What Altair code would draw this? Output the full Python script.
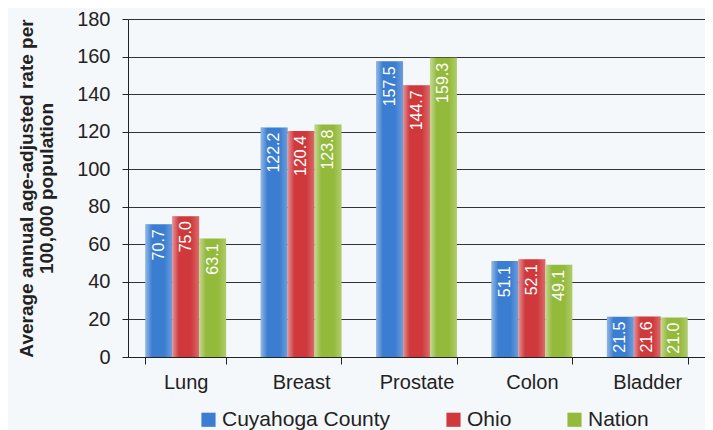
import altair as alt
import pandas as pd

categories = ["Lung", "Breast", "Prostate", "Colon", "Bladder"]
series = ["Cuyahoga County", "Ohio", "Nation"]
cuyahoga = [70.7, 122.2, 157.5, 51.1, 21.5]
ohio = [75.0, 120.4, 144.7, 52.1, 21.6]
nation = [63.1, 123.8, 159.3, 49.1, 21.0]
colors = ["#3b7dd0", "#cf393c", "#94ba3c"]
y_ticks = [0, 20, 40, 60, 80, 100, 120, 140, 160, 180]

rows = []
for s, vals in zip(series, [cuyahoga, ohio, nation]):
    for c, v in zip(categories, vals):
        rows.append({"cancer": c, "area": s, "rate": v, "label": f"{v:.1f}"})
df = pd.DataFrame(rows)

FONT = "Liberation Sans"

x_enc = alt.X("cancer:N", sort=categories, title=None,
              scale=alt.Scale(paddingInner=0.3, paddingOuter=0.15),
              axis=alt.Axis(labelAngle=0, labelFontSize=20, labelColor="#222",
                            labelFont=FONT, tickBand="extent", tickSize=7,
                            tickColor="#222", domainColor="#222", labelPadding=8))
xo_enc = alt.XOffset("area:N", sort=series)
y_enc = alt.Y("rate:Q", scale=alt.Scale(domain=[0, 180], nice=False),
              axis=alt.Axis(values=y_ticks, title=["Average annual age-adjusted rate per", "100,000 population"],
                            titleFontSize=19, titleFont=FONT, titleFontWeight="bold",
                            titleColor="#222", titleLineHeight=20, titlePadding=20,
                            labelFontSize=20, labelFont=FONT, labelColor="#222",
                            tickSize=6, tickColor="#222", domainColor="#222",
                            gridColor="#333", gridWidth=1, labelPadding=12))

base = alt.Chart(df)

bars = base.mark_bar().encode(
    x=x_enc, xOffset=xo_enc, y=y_enc,
    color=alt.Color("area:N", sort=series,
                    scale=alt.Scale(domain=series, range=colors),
                    legend=alt.Legend(orient="none", legendX=70, legendY=390,
                                      direction="horizontal", title=None, symbolType="square",
                                      symbolSize=200, symbolStrokeWidth=0,
                                      labelFontSize=21, labelFont=FONT, labelColor="#222",
                                      labelLimit=400,
                                      columnPadding=52, labelOffset=3)),
)

shine = base.mark_bar(
    color=alt.Gradient(
        gradient="linear",
        stops=[
            alt.GradientStop(color="rgba(255,255,255,0.45)", offset=0),
            alt.GradientStop(color="rgba(255,255,255,0.0)", offset=0.25),
            alt.GradientStop(color="rgba(255,255,255,0.0)", offset=0.7),
            alt.GradientStop(color="rgba(255,255,255,0.25)", offset=1),
        ],
        x1=0, x2=1, y1=0, y2=0,
    )
).encode(x=x_enc, xOffset=xo_enc, y=y_enc)

labels = base.mark_text(angle=270, align="right", baseline="middle", dx=-5,
                        color="white", fontSize=16, font=FONT).encode(
    x=x_enc, xOffset=xo_enc, y=y_enc, text="label:N")

chart = alt.layer(bars, shine, labels).properties(
    width=577, height=338,
    background="#f5f8fa",
    autosize=alt.AutoSizeParams(type="none"),
    padding={"left": 120, "top": 11, "right": 0, "bottom": 73},
).configure_view(stroke=None).configure_axisX(grid=False)

chart.save("out.html", embed_options={"renderer": "svg", "actions": False})
